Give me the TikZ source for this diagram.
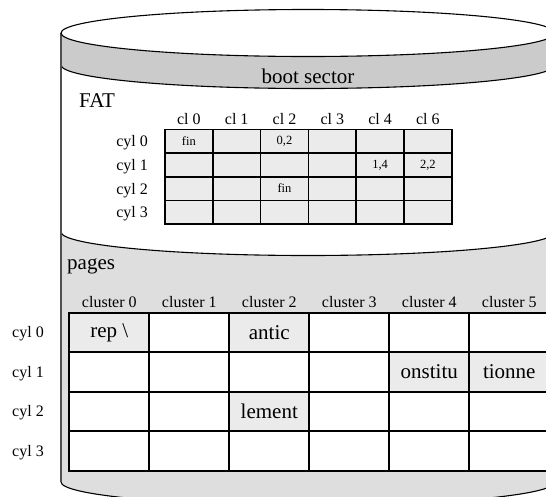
\documentclass[tikz,border=0pt]{standalone}
\usepackage{fontspec}
\setmainfont{Liberation Serif}
\definecolor{bootgray}{HTML}{CBCBCB}
\definecolor{pagegray}{HTML}{DEDEDE}
\definecolor{cellgray}{HTML}{EBEBEB}
\definecolor{edgegray}{HTML}{505050}

\begin{document}
\begin{tikzpicture}[x=1pt,y=1pt,
  bigtext/.style={font=\fontsize{21}{24}\selectfont},
  smalltext/.style={font=\fontsize{16}{18}\selectfont},
  tinytext/.style={font=\fontsize{12.5}{14}\selectfont},
  fatcell/.style={draw=black, line width=1.6pt, fill=cellgray,
    minimum width=47.8pt, minimum height=23.7pt, inner sep=0pt,
    outer sep=0pt, anchor=north west},
  pagecell/.style={draw=black, line width=1.8pt, fill=white,
    minimum width=80pt, minimum height=39.5pt, inner sep=0pt,
    outer sep=0pt, anchor=north west},
  usedcell/.style={fill=cellgray},
  rim/.style={draw=black, line width=1.1pt},
  disk/.style={x radius=247, y radius=23.5}
]
\useasboundingbox (0,0) rectangle (546,-496);

\begin{scope}
  \clip (0,0) rectangle (546,-496);
  % data area of the disk
  \fill[pagegray] (61,-232) -- (61,-482)
    arc[start angle=180, end angle=360, disk] -- (555,-232)
    arc[start angle=0, end angle=-180, disk] -- cycle;
  % FAT area
  \fill[white] (61,-65) -- (61,-232)
    arc[start angle=180, end angle=360, disk] -- (555,-65)
    arc[start angle=0, end angle=-180, disk] -- cycle;
  % boot sector band
  \fill[bootgray] (61,-33) -- (61,-65)
    arc[start angle=180, end angle=360, disk] -- (555,-33)
    arc[start angle=0, end angle=-180, disk] -- cycle;
  % separating rims
  \draw[rim] (61,-65) arc[start angle=180, end angle=360, disk];
  \draw[rim] (61,-232) arc[start angle=180, end angle=360, disk];
  \draw[rim] (61,-482) arc[start angle=180, end angle=360, disk];
  \draw[edgegray, line width=1.4pt] (61,-33) -- (61,-482);
  % top face
  \draw[rim, fill=white] (308,-33) ellipse[disk];
\end{scope}

% section titles
\node[bigtext, anchor=base] (boot) at (308,-83) {boot sector};
\node[bigtext, anchor=base west, inner sep=0pt] (fat) at (79,-107) {FAT};
\node[bigtext, anchor=base west, inner sep=0pt] (pages) at (67,-269) {pages};

% FAT table
\foreach \r in {0,...,3}
  \foreach \c in {0,...,5}
    \node[fatcell] (fat-\r-\c) at ({165+47.8*\c},{-129.3-23.7*\r}) {};
\foreach \c/\t in {0/cl 0, 1/cl 1, 2/cl 2, 3/cl 3, 4/cl 4, 5/cl 6}
  \node[smalltext, anchor=base, inner sep=0pt] (fathead-\c)
    at ({165+47.8*(\c+0.5)},-124.5) {\t};
\foreach \r in {0,...,3}
  \node[smalltext, anchor=base east, inner sep=0pt] (fatrow-\r)
    at (148,{-129.3-23.7*(\r+0.5)-5.5}) {cyl \r};
\foreach \r/\c/\t in {0/0/fin, 0/2/{0,2}, 1/4/{1,4}, 1/5/{2,2}, 2/2/fin}
  \node[tinytext] (fatval-\r-\c) at (fat-\r-\c.center) {\t};

% data clusters
\foreach \r in {0,...,3}
  \foreach \c in {0,...,5}
    \node[pagecell] (pg-\r-\c) at ({69.3+80*\c},{-312.7-39.5*\r}) {};
\foreach \r/\c/\t in {0/0/rep \textbackslash, 0/2/antic, 1/4/onstitu,
                      1/5/tionne, 2/2/lement}
  \node[pagecell, usedcell, bigtext, anchor=center] (pgval-\r-\c)
    at (pg-\r-\c.center) {\t};
\foreach \c in {0,...,5}
  \node[smalltext, anchor=base, inner sep=0pt] (pghead-\c)
    at ({69.3+80*(\c+0.5)},-307) {cluster \c};
\foreach \r in {0,...,3}
  \node[smalltext, anchor=base west, inner sep=0pt] (pgrow-\r)
    at (12,{-312.7-39.5*(\r+0.5)-5.5}) {cyl \r};
\end{tikzpicture}
\end{document}
